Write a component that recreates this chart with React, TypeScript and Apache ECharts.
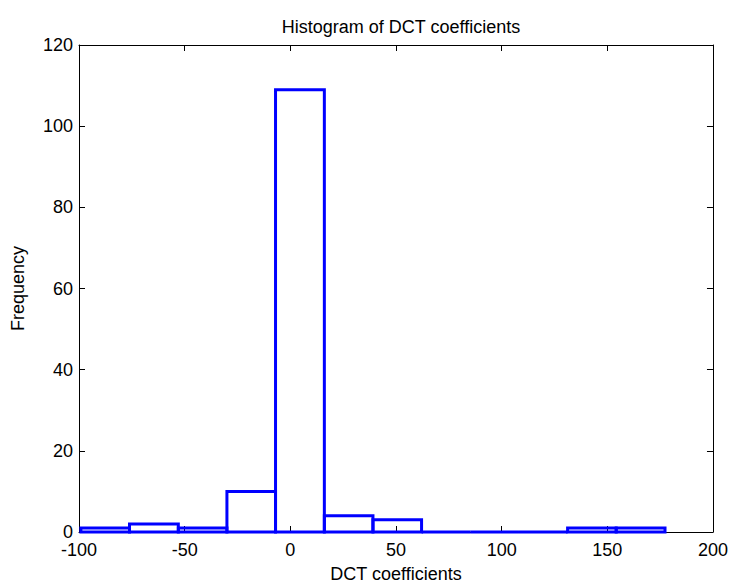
import React, { useEffect, useRef } from "react";
import * as echarts from "echarts";

// Histogram bins: edges (left to right) and counts per bin
const binEdges = [-99.1, -76.1, -53.0, -30.0, -7.0, 16.1, 39.1, 62.1, 85.1, 108.2, 131.2, 154.2, 177.3];
const binCounts = [1, 2, 1, 10, 109, 4, 3, 0, 0, 0, 1, 1];

const xTicks = { min: -100, max: 200, interval: 50 };
const yTicks = { min: 0, max: 120, interval: 20 };

const titleText = "Histogram of DCT coefficients";
const xName = "DCT coefficients";
const yName = "Frequency";

const FONT = "'Liberation Sans', Arial, Helvetica, sans-serif";
const FS = 18;

export default function App() {
  const ref = useRef<HTMLDivElement>(null);

  useEffect(() => {
    if (!ref.current) return;
    const chart = echarts.init(ref.current, undefined, { renderer: "svg" });

    const bins = binCounts.map((c, i) => [binEdges[i], binEdges[i + 1], c]);

    const axisLine = { show: true, onZero: false, lineStyle: { color: "#000", width: 1 } };
    const tick = { show: true, inside: true, length: 6, lineStyle: { color: "#000", width: 1 } };
    const label = { color: "#000", fontSize: FS, fontFamily: FONT, lineHeight: 14 };

    chart.setOption({
      animation: false,
      backgroundColor: "#fff",
      title: {
        text: titleText,
        left: 396,
        textAlign: "center",
        top: 13,
        textStyle: { color: "#000", fontSize: FS, fontWeight: "normal", fontFamily: FONT },
      },
      grid: { left: 79, right: 18, top: 45, bottom: 48, containLabel: false },
      xAxis: [
        {
          type: "value",
          position: "bottom",
          ...xTicks,
          axisLine,
          axisTick: tick,
          axisLabel: { ...label, margin: 11 },
          splitLine: { show: false },
          name: xName,
          nameLocation: "middle",
          nameGap: 33,
          nameTextStyle: { color: "#000", fontSize: FS, fontFamily: FONT },
        },
        {
          type: "value",
          position: "top",
          ...xTicks,
          axisLine,
          axisTick: tick,
          axisLabel: { show: false },
          splitLine: { show: false },
        },
      ],
      yAxis: [
        {
          type: "value",
          position: "left",
          ...yTicks,
          axisLine,
          axisTick: tick,
          axisLabel: { ...label, margin: 6 },
          splitLine: { show: false },
          name: yName,
          nameLocation: "middle",
          nameGap: 52,
          nameTextStyle: { color: "#000", fontSize: FS, fontFamily: FONT },
        },
        {
          type: "value",
          position: "right",
          ...yTicks,
          axisLine,
          axisTick: tick,
          axisLabel: { show: false },
          splitLine: { show: false },
        },
      ],
      series: [
        {
          type: "custom",
          xAxisIndex: 0,
          yAxisIndex: 0,
          data: bins,
          encode: { x: [0, 1], y: 2 },
          renderItem: (_params: any, api: any) => {
            const x0 = api.value(0);
            const x1 = api.value(1);
            const c = api.value(2);
            const a = api.coord([x0, 0]);
            const b = api.coord([x1, c]);
            return {
              type: "polygon",
              shape: {
                points: [
                  [a[0], a[1]],
                  [a[0], b[1]],
                  [b[0], b[1]],
                  [b[0], a[1]],
                ],
              },
              style: { fill: "none", stroke: "#0000ff", lineWidth: 3, lineJoin: "miter" },
            };
          },
        },
      ],
    });

    return () => chart.dispose();
  }, []);

  return (
    <div
      ref={ref}
      style={{ position: "fixed", left: 0, top: 0, width: 731, height: 588, background: "#fff" }}
    />
  );
}
